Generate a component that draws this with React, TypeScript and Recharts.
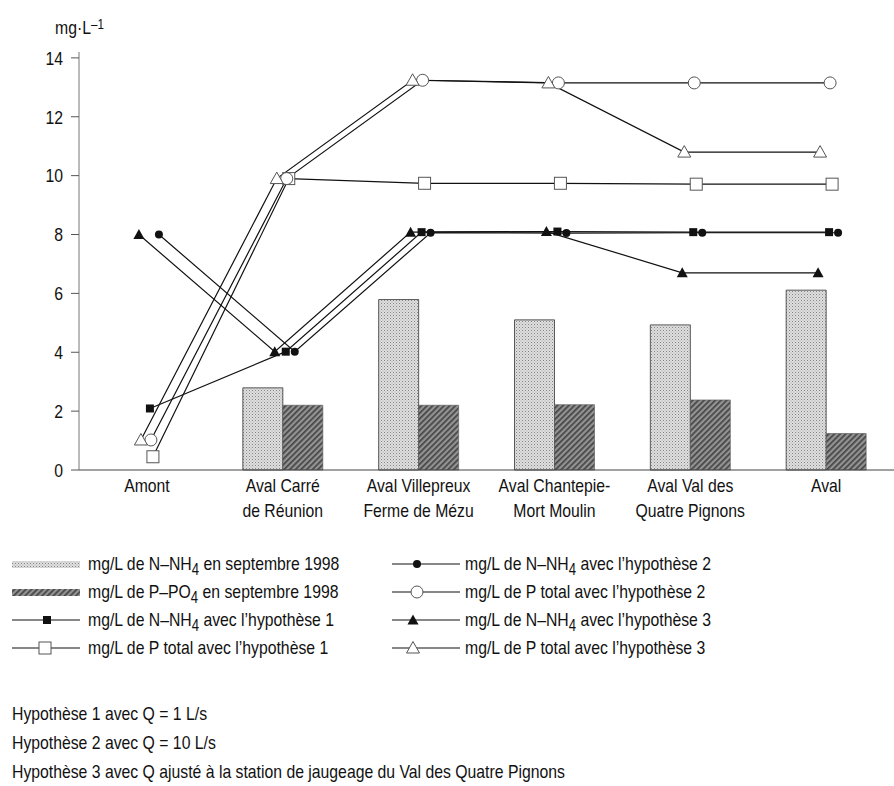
import React from 'react';
import { ComposedChart, Bar, Line, XAxis, YAxis } from 'recharts';

// stations along the river (\n = line break in the axis label)
const categories = [
  'Amont',
  'Aval Carré\nde Réunion',
  'Aval Villepreux\nFerme de Mézu',
  'Aval Chantepie-\nMort Moulin',
  'Aval Val des\nQuatre Pignons',
  'Aval',
];

// measured in September 1998 (bars)
const nnh4Sep98 = [null, 2.79, 5.79, 5.1, 4.93, 6.11];
const ppo4Sep98 = [null, 2.2, 2.2, 2.22, 2.38, 1.24];

// simulated concentrations (lines)
const nnh4H1 = [2.09, 4.02, 8.08, 8.1, 8.08, 8.08];
const nnh4H2 = [8.0, 4.02, 8.06, 8.05, 8.06, 8.06];
const nnh4H3 = [8.0, 4.02, 8.08, 8.1, 6.7, 6.7];
const ptotH1 = [0.45, 9.9, 9.74, 9.74, 9.71, 9.71];
const ptotH2 = [1.02, 9.9, 13.24, 13.15, 13.15, 13.15];
const ptotH3 = [1.02, 9.9, 13.24, 13.15, 10.8, 10.8];

const yTicks = [0, 2, 4, 6, 8, 10, 12, 14];

const notes = [
  'Hypothèse 1 avec Q = 1 L/s',
  'Hypothèse 2 avec Q = 10 L/s',
  'Hypothèse 3 avec Q ajusté à la station de jaugeage du Val des Quatre Pignons',
];

// no narrow Helvetica available: squeeze Liberation Sans instead
const FONT = "'Liberation Sans', Arial, sans-serif";
const SQUEEZE = 0.83;
const INK = '#111';
const GREY = '#555';

const data = categories.map((cat, i) => ({
  cat,
  nnh4Sep: nnh4Sep98[i],
  ppo4Sep: ppo4Sep98[i],
  nnh4H1: nnh4H1[i],
  nnh4H2: nnh4H2[i],
  nnh4H3: nnh4H3[i],
  ptotH1: ptotH1[i],
  ptotH2: ptotH2[i],
  ptotH3: ptotH3[i],
}));

type Kind = 'square' | 'squareOpen' | 'circle' | 'circleOpen' | 'triangle' | 'triangleOpen';

function Marker({ kind, cx, cy }: { kind: Kind; cx: number; cy: number }) {
  switch (kind) {
    case 'square':
      return <rect x={cx - 4} y={cy - 4} width={8} height={8} fill={INK} />;
    case 'squareOpen':
      return <rect x={cx - 6} y={cy - 6} width={12} height={12} fill="#fff" stroke={GREY} strokeWidth={1} />;
    case 'circle':
      return <circle cx={cx} cy={cy} r={4} fill={INK} />;
    case 'circleOpen':
      return <circle cx={cx} cy={cy} r={6} fill="#fff" stroke={GREY} strokeWidth={1} />;
    case 'triangle':
      return <polygon points={`${cx - 5.5},${cy + 4.5} ${cx + 5.5},${cy + 4.5} ${cx},${cy - 5.5}`} fill={INK} />;
    case 'triangleOpen':
      return (
        <polygon
          points={`${cx - 6.5},${cy + 5} ${cx + 6.5},${cy + 5} ${cx},${cy - 6.5}`}
          fill="#fff"
          stroke={GREY}
          strokeWidth={1}
        />
      );
  }
  return null;
}

// each hypothesis is drawn a few pixels off the station centre, like the original
const lineSeries: { key: string; kind: Kind; dx: number }[] = [
  { key: 'ptotH1', kind: 'squareOpen', dx: 6 },
  { key: 'ptotH2', kind: 'circleOpen', dx: 4 },
  { key: 'ptotH3', kind: 'triangleOpen', dx: -6 },
  { key: 'nnh4H1', kind: 'square', dx: 3 },
  { key: 'nnh4H2', kind: 'circle', dx: 12 },
  { key: 'nnh4H3', kind: 'triangle', dx: -8 },
];

const legendLeft: { kind: Kind | 'light' | 'dark'; label: React.ReactNode }[] = [
  { kind: 'light', label: <>mg/L de N–NH<sub>4</sub> en septembre 1998</> },
  { kind: 'dark', label: <>mg/L de P–PO<sub>4</sub> en septembre 1998</> },
  { kind: 'square', label: <>mg/L de N–NH<sub>4</sub> avec l’hypothèse 1</> },
  { kind: 'squareOpen', label: <>mg/L de P total avec l’hypothèse 1</> },
];
const legendRight: { kind: Kind; label: React.ReactNode }[] = [
  { kind: 'circle', label: <>mg/L de N–NH<sub>4</sub> avec l’hypothèse 2</> },
  { kind: 'circleOpen', label: <>mg/L de P total avec l’hypothèse 2</> },
  { kind: 'triangle', label: <>mg/L de N–NH<sub>4</sub> avec l’hypothèse 3</> },
  { kind: 'triangleOpen', label: <>mg/L de P total avec l’hypothèse 3</> },
];

function Patterns({ prefix }: { prefix: string }) {
  return (
    <defs>
      <pattern id={`${prefix}-light`} width="3" height="3" patternUnits="userSpaceOnUse">
        <rect width="3" height="3" fill="#dedede" />
        <rect width="1" height="1" fill="#858585" />
        <rect x="1.5" y="1.5" width="1" height="1" fill="#aaaaaa" />
      </pattern>
      <pattern id={`${prefix}-dark`} width="4" height="4" patternUnits="userSpaceOnUse" patternTransform="rotate(45)">
        <rect width="4" height="4" fill="#939393" />
        <rect width="1.7" height="4" fill="#444" />
      </pattern>
    </defs>
  );
}

function StationTick({ x, y, payload }: any) {
  const lines = String(payload.value).split('\n');
  return (
    <g transform={`translate(${x} ${y}) scale(${SQUEEZE} 1)`}>
      <text x={0} y={0} textAnchor="middle" fill={INK} fontSize={19} fontFamily={FONT}>
        {lines.map((l, i) => (
          <tspan key={i} x={0} dy={i === 0 ? '0.71em' : 26}>
            {l}
          </tspan>
        ))}
      </text>
    </g>
  );
}

function ValueTick({ x, y, payload }: any) {
  return (
    <g transform={`translate(${x} ${y}) scale(${SQUEEZE} 1)`}>
      <text x={0} y={0} dy="0.355em" textAnchor="end" fill={INK} fontSize={19} fontFamily={FONT}>
        {payload.value}
      </text>
    </g>
  );
}

function LegendIcon({ kind, markerX }: { kind: Kind | 'light' | 'dark'; markerX: number }) {
  return (
    <svg width={70} height={14} style={{ position: 'absolute', left: 0, top: 0, overflow: 'visible' }}>
      <Patterns prefix="lg" />
      {kind === 'light' && <rect x={0} y={4} width={68} height={7} fill="url(#lg-light)" />}
      {kind === 'dark' && <rect x={0} y={4} width={68} height={7} fill="url(#lg-dark)" />}
      {kind !== 'light' && kind !== 'dark' && (
        <>
          <line x1={0} x2={68} y1={7} y2={7} stroke={INK} strokeWidth={1.2} />
          <Marker kind={kind} cx={markerX} cy={7} />
        </>
      )}
    </svg>
  );
}

const textStyle: React.CSSProperties = {
  position: 'absolute',
  fontFamily: FONT,
  fontSize: 19,
  color: INK,
  whiteSpace: 'nowrap',
  lineHeight: '22px',
  transform: `scaleX(${SQUEEZE})`,
  transformOrigin: 'left center',
};

export default function App() {
  const rowY = [564, 592, 620, 648];
  const noteY = [714, 743, 772];
  return (
    <div style={{ position: 'absolute', left: 0, top: 0, width: 894, height: 786, background: '#fff' }}>
      <div style={{ ...textStyle, left: 55, top: 17 }}>
        mg·L<sup style={{ fontSize: 14, verticalAlign: 'top', position: 'relative', top: -4 }}>–1</sup>
      </div>

      <ComposedChart
        width={894}
        height={530}
        data={data}
        margin={{ top: 52, right: 0, left: 0, bottom: 0 }}
        barGap={0}
        style={{ position: 'absolute', left: 0, top: 0 }}
      >
        <Patterns prefix="bar" />
        <XAxis
          xAxisId="main"
          dataKey="cat"
          interval={0}
          tickLine={false}
          axisLine={{ stroke: '#444', strokeWidth: 1.2 }}
          tick={<StationTick />}
          height={60}
        />
        {lineSeries.map((s) => (
          <XAxis
            key={s.key}
            xAxisId={s.key}
            dataKey="cat"
            hide
            padding={{ left: s.dx, right: -s.dx }}
            height={60}
          />
        ))}
        <YAxis
          domain={[0, 14.2]}
          ticks={yTicks}
          width={79}
          tickSize={8}
          tickMargin={8}
          axisLine={{ stroke: '#777' }}
          tickLine={{ stroke: '#555' }}
          tick={<ValueTick />}
        />
        <Bar
          xAxisId="main"
          dataKey="nnh4Sep"
          barSize={40}
          fill="url(#bar-light)"
          stroke="#333"
          strokeWidth={0.8}
          isAnimationActive={false}
        />
        <Bar
          xAxisId="main"
          dataKey="ppo4Sep"
          barSize={40}
          fill="url(#bar-dark)"
          stroke="#555"
          strokeWidth={0.6}
          isAnimationActive={false}
        />
        {lineSeries.map((s) => (
          <Line
            key={s.key}
            xAxisId={s.key}
            dataKey={s.key}
            stroke={INK}
            strokeWidth={1.2}
            isAnimationActive={false}
            activeDot={false}
            dot={(p: any) =>
              p.cx == null || p.cy == null ? (
                <g key={`${s.key}-${p.index}`} />
              ) : (
                <g key={`${s.key}-${p.index}`}>
                  <Marker kind={s.kind} cx={p.cx} cy={p.cy} />
                </g>
              )
            }
          />
        ))}
      </ComposedChart>

      {legendLeft.map((r, i) => (
        <div key={`l${i}`}>
          <div style={{ position: 'absolute', left: 12, top: rowY[i] - 7 }}>
            <LegendIcon kind={r.kind} markerX={r.kind === 'square' ? 35 : 33} />
          </div>
          <div style={{ ...textStyle, left: 88, top: rowY[i] - 11 }}>{r.label}</div>
        </div>
      ))}
      {legendRight.map((r, i) => (
        <div key={`r${i}`}>
          <div style={{ position: 'absolute', left: 392, top: rowY[i] - 7 }}>
            <LegendIcon kind={r.kind} markerX={r.kind.startsWith('triangle') ? 21 : 25} />
          </div>
          <div style={{ ...textStyle, left: 465, top: rowY[i] - 11 }}>{r.label}</div>
        </div>
      ))}

      {notes.map((n, i) => (
        <div key={n} style={{ ...textStyle, left: 12, top: noteY[i] - 11 }}>
          {n}
        </div>
      ))}
    </div>
  );
}
